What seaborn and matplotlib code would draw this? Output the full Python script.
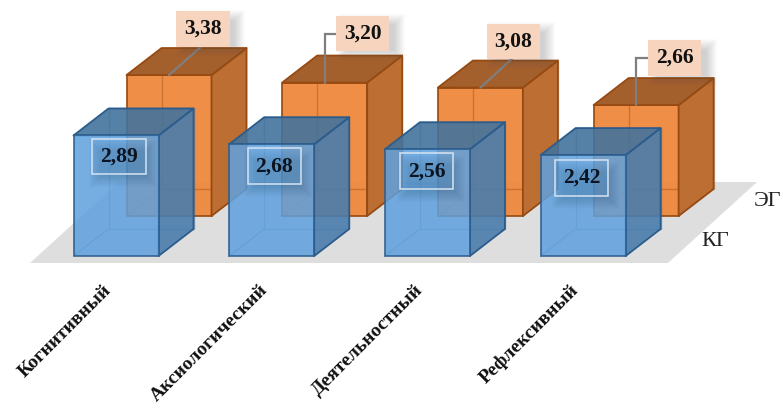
import matplotlib
matplotlib.use("Agg")
import matplotlib.pyplot as plt
from matplotlib.patches import Polygon, Rectangle
import numpy as np
import pandas as pd
import seaborn as sns

# Survey scores by component, control group (КГ) and experimental group (ЭГ)
categories = ["Когнитивный", "Аксиологический", "Деятельностный", "Рефлексивный"]
control_values = [2.89, 2.68, 2.56, 2.42]
experimental_values = [3.38, 3.20, 3.08, 2.66]
control_name = "КГ"
experimental_name = "ЭГ"

FONT = "Liberation Serif"
W, H, DPI = 783, 408, 100
PX_X = 155.7      # pixels per category step
PX_Y = 41.7       # pixels per score unit
X0, Y0 = 116, 256 # pixel position of the first front bar's base centre
FLOOR_PX = 263    # pixel row of the floor's front edge

BAR_W = 85 / PX_X
DEPTH_X, DEPTH_Y = 35 / PX_X, 27 / PX_Y
ROW_X, ROW_Y = 53 / PX_X, 40 / PX_Y

sns.set_theme(style="white")
fig = plt.figure(figsize=(W / DPI, H / DPI), dpi=DPI, facecolor="white")
ax = fig.add_axes([0, (H - FLOOR_PX) / H, 1, FLOOR_PX / H])


def draw_box_faces(x, value, base, side, top, edge, z, inner_alpha):
    """Add the depth faces of one oblique box whose front face is drawn by seaborn."""
    l, r = x - BAR_W / 2, x + BAR_W / 2
    b, t = base, base + value
    dx, dy = DEPTH_X, DEPTH_Y
    inner = dict(fill=False, edgecolor=edge, linewidth=1.0, alpha=inner_alpha, zorder=z)
    ax.add_patch(Polygon([(l + dx, b + dy), (r + dx, b + dy), (r + dx, t + dy), (l + dx, t + dy)], **inner))
    ax.add_patch(Polygon([(l, b), (l + dx, b + dy)], closed=False, **inner))
    outer = dict(edgecolor=edge, linewidth=1.3, joinstyle="round", zorder=z + 0.1)
    ax.add_patch(Polygon([(r, b), (r + dx, b + dy), (r + dx, t + dy), (r, t)], facecolor=side, **outer))
    ax.add_patch(Polygon([(l, t), (r, t), (r + dx, t + dy), (l + dx, t + dy)], facecolor=top, **outer))


def draw_shadow(cx, cy, color, strength, shift):
    """Soft drop shadow built from stacked translucent rectangles, in pixel offsets."""
    for k in range(12):
        w, h = (46 + 2 * k) / PX_X, (25 + 2 * k) / PX_Y
        ax.add_patch(Rectangle((cx + shift[0] / PX_X - w / 2, cy + shift[1] / PX_Y - h / 2), w, h,
                               facecolor=color, edgecolor="none", alpha=strength, zorder=7))


positions = np.arange(len(categories), dtype=float)

# Floor plane under both rows
ax.add_patch(Polygon([(-86 / PX_X, (Y0 - FLOOR_PX) / PX_Y),
                      (552 / PX_X, (Y0 - FLOOR_PX) / PX_Y),
                      (641 / PX_X, (Y0 - 182) / PX_Y),
                      (3 / PX_X, (Y0 - 182) / PX_Y)],
                     facecolor="#DEDEDE", edgecolor="none", zorder=1))

# Back row
orange_df = pd.DataFrame({"x": positions + ROW_X, "value": experimental_values})
sns.barplot(data=orange_df, x="x", y="value", native_scale=True, width=BAR_W, errorbar=None,
            color="#EE873A", saturation=1, bottom=ROW_Y, edgecolor="#964A12", linewidth=1.3,
            alpha=0.94, zorder=3, ax=ax)
for x, v in zip(orange_df["x"], orange_df["value"]):
    draw_box_faces(x, v, ROW_Y, "#BC6E33", "#A4602C", "#964A12", 3.2, 0.4)

# Front row
blue_df = pd.DataFrame({"x": positions, "value": control_values})
for x, v in zip(blue_df["x"], blue_df["value"]):
    draw_box_faces(x, v, 0, "#4A7DADE6", "#43739CE6", "#2C5C8C", 4, 0.45)
sns.barplot(data=blue_df, x="x", y="value", native_scale=True, width=BAR_W, errorbar=None,
            color="#5FA1DE", saturation=1, edgecolor="#2C5C8C", linewidth=1.3,
            alpha=0.86, zorder=5, ax=ax)

# Value labels on the back row, with leader lines to the top edge of each box
label_offsets_back = [(34, 46), (38, 49), (33, 46), (38.5, 47)]
elbow_leader = [False, True, False, True]
for x, v, (ox, oy), elbow in zip(orange_df["x"], experimental_values, label_offsets_back, elbow_leader):
    ax_y = ROW_Y + v
    cx, cy = x + ox / PX_X, ax_y + oy / PX_Y
    if elbow:
        xs = [x, x, cx - 27 / PX_X]
        ys = [ax_y, cy, cy]
    else:
        xs = [x, cx]
        ys = [ax_y, cy - 16 / PX_Y]
    ax.plot(xs, ys, color="#7F7F7F", linewidth=1.6, solid_joinstyle="miter", zorder=6)
    draw_shadow(cx, cy, "#5A5A5A", 0.025, (8, -4))
    ax.text(cx, cy, f"{v:.2f}".replace(".", ","), ha="center", va="center", family=FONT,
            fontweight="bold", fontsize=15.5, color="#111111", zorder=8,
            bbox=dict(boxstyle="square,pad=0.36", facecolor="#F6D4BD", edgecolor="none"))

# Value labels on the front row
label_offsets_front = [(3, -21), (2.5, -22), (-0.5, -22), (-1.5, -23)]
for x, v, (ox, oy) in zip(blue_df["x"], control_values, label_offsets_front):
    cx, cy = x + ox / PX_X, v + oy / PX_Y
    draw_shadow(cx, cy, "#1F3F60", 0.018, (4, -7))
    ax.text(cx, cy, f"{v:.2f}".replace(".", ","), ha="center", va="center", family=FONT,
            fontweight="bold", fontsize=15.5, color="#0B1420", zorder=8,
            bbox=dict(boxstyle="square,pad=0.36", facecolor="#5FA1DE30", edgecolor="#D5E4F2", linewidth=1.1))

# Row names at the right end of the floor
ax.text((767 - X0) / PX_X, (Y0 - 201) / PX_Y, experimental_name, family=FONT, fontsize=16,
        ha="center", va="center", color="#222222", zorder=8)
ax.text((715 - X0) / PX_X, (Y0 - 242) / PX_Y, control_name, family=FONT, fontsize=16,
        ha="center", va="center", color="#222222", zorder=8)

ax.set_xlim(-X0 / PX_X, (W - X0) / PX_X)
ax.set_ylim((Y0 - FLOOR_PX) / PX_Y, Y0 / PX_Y)
ax.set_yticks([])
ax.set_xticks(positions - 13 / PX_X, categories)
ax.set_xlabel("")
ax.set_ylabel("")
ax.tick_params(axis="x", length=0, pad=13.5)
for lbl in ax.get_xticklabels():
    lbl.set(rotation=45, ha="right", va="top", rotation_mode="anchor", family=FONT,
            fontsize=14, fontweight="bold", color="#111111")
sns.despine(ax=ax, left=True, bottom=True)
ax.patch.set_alpha(0)

fig.savefig("out.png", dpi=DPI, facecolor="white")
